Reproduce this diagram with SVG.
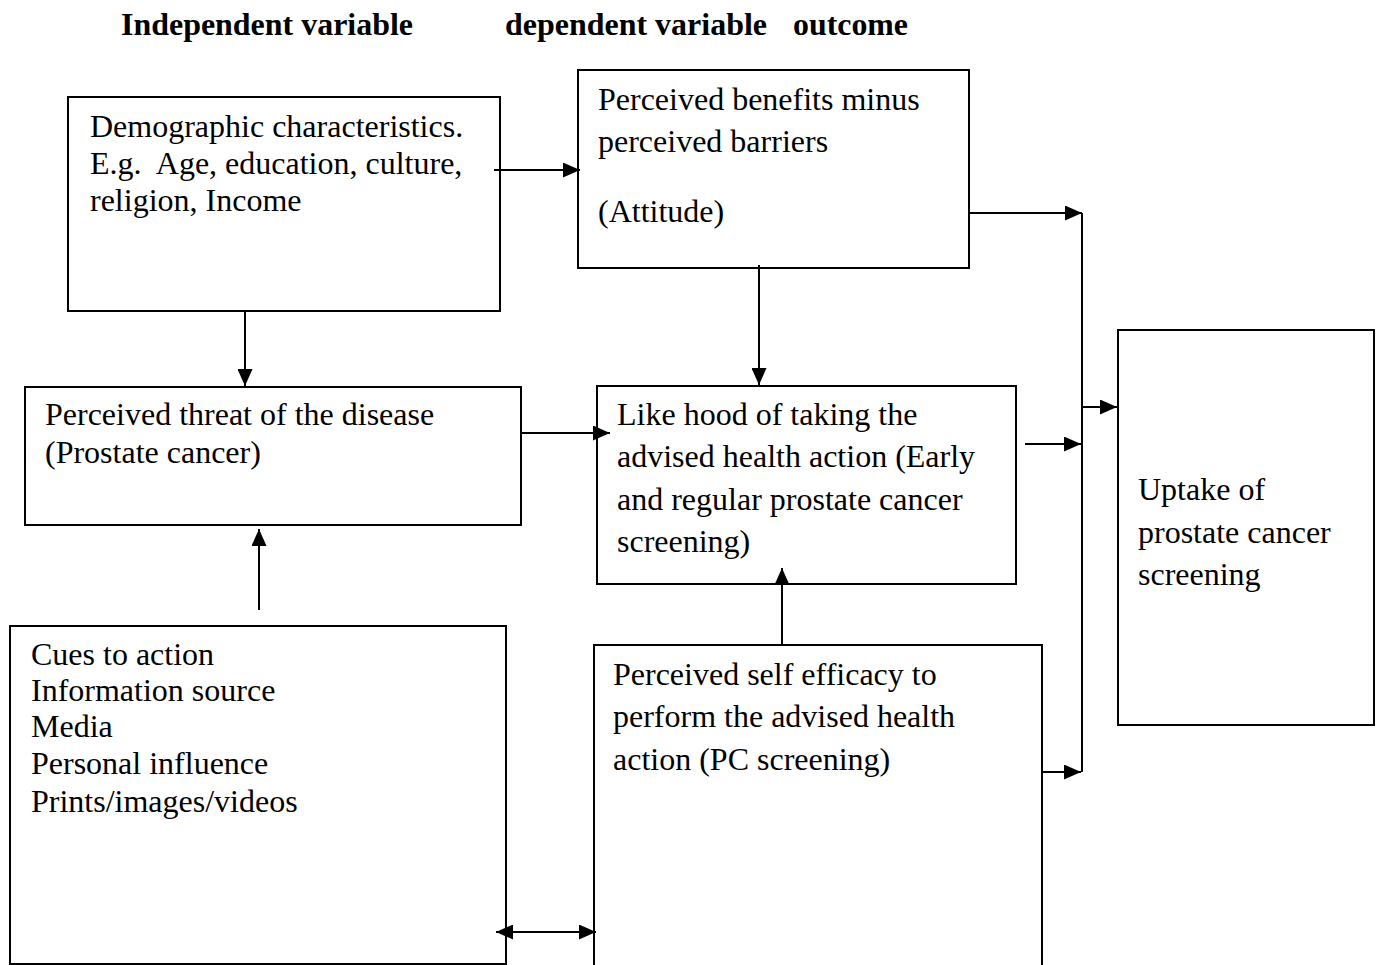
<svg xmlns="http://www.w3.org/2000/svg" width="1382" height="965" viewBox="0 0 1382 965">
<style>
.box{fill:#fff;stroke:#000;stroke-width:2}
.t{font-family:"Liberation Serif","Times New Roman",serif;font-size:32px;fill:#000}
.h{font-family:"Liberation Serif","Times New Roman",serif;font-size:31px;font-weight:bold;fill:#000}
.c{fill:none;stroke:#000;stroke-width:2}
</style>
<defs>
<marker id="ah" viewBox="0 0 17 15" refX="17" refY="7.5" markerWidth="17" markerHeight="15" markerUnits="userSpaceOnUse" orient="auto-start-reverse">
<path d="M0,0 L17,7.5 L0,15 z" fill="#000"/>
</marker>
</defs>
<rect width="1382" height="965" fill="#fff"/>
<g id="header">
<text class="h" x="121" y="35" textLength="292" lengthAdjust="spacingAndGlyphs">Independent variable</text>
<text class="h" x="505" y="35" textLength="262" lengthAdjust="spacingAndGlyphs">dependent variable</text>
<text class="h" x="793" y="35" textLength="115" lengthAdjust="spacingAndGlyphs">outcome</text>
</g>
<g id="demographic">
<rect class="box" x="68" y="97" width="432" height="214"/>
<text class="t" x="90" y="137">Demographic characteristics.</text>
<text class="t" x="90" y="174" xml:space="preserve">E.g.  Age, education, culture,</text>
<text class="t" x="90" y="211">religion, Income</text>
</g>
<g id="benefits">
<rect class="box" x="578" y="70" width="391" height="198"/>
<text class="t" x="598" y="110">Perceived benefits minus</text>
<text class="t" x="598" y="152">perceived barriers</text>
<text class="t" x="598" y="222">(Attitude)</text>
</g>
<g id="threat">
<rect class="box" x="25" y="387" width="496" height="138"/>
<text class="t" x="45" y="425">Perceived threat of the disease</text>
<text class="t" x="45" y="463">(Prostate cancer)</text>
</g>
<g id="likelihood">
<rect class="box" x="597" y="386" width="419" height="198"/>
<text class="t" x="617" y="425">Like hood of taking the</text>
<text class="t" x="617" y="467">advised health action (Early</text>
<text class="t" x="617" y="510">and regular prostate cancer</text>
<text class="t" x="617" y="552">screening)</text>
</g>
<g id="uptake">
<rect class="box" x="1118" y="330" width="256" height="395"/>
<text class="t" x="1138" y="500">Uptake of</text>
<text class="t" x="1138" y="543">prostate cancer</text>
<text class="t" x="1138" y="585">screening</text>
</g>
<g id="cues">
<rect class="box" x="10" y="626" width="496" height="338"/>
<text class="t" x="31" y="665">Cues to action</text>
<text class="t" x="31" y="701">Information source</text>
<text class="t" x="31" y="737">Media</text>
<text class="t" x="31" y="774">Personal influence</text>
<text class="t" x="31" y="812">Prints/images/videos</text>
</g>
<g id="selfefficacy">
<rect class="box" x="594" y="645" width="448" height="340"/>
<text class="t" x="613" y="685">Perceived self efficacy to</text>
<text class="t" x="613" y="727">perform the advised health</text>
<text class="t" x="613" y="770">action (PC screening)</text>
</g>
<g id="connectors">
<path class="c" d="M494,170 H580" marker-end="url(#ah)"/>
<path class="c" d="M969,213 H1082" marker-end="url(#ah)"/>
<path class="c" d="M1082,213 V772"/>
<path class="c" d="M1082,407 H1117" marker-end="url(#ah)"/>
<path class="c" d="M1025,444 H1081" marker-end="url(#ah)"/>
<path class="c" d="M1042,772 H1081" marker-end="url(#ah)"/>
<path class="c" d="M245,311 V386" marker-end="url(#ah)"/>
<path class="c" d="M759,265 V385" marker-end="url(#ah)"/>
<path class="c" d="M522,433 H610" marker-end="url(#ah)"/>
<path class="c" d="M259,610 V529" marker-end="url(#ah)"/>
<path class="c" d="M782,645 V568" marker-end="url(#ah)"/>
<path class="c" d="M496,932 H596" marker-start="url(#ah)" marker-end="url(#ah)"/>
</g>
</svg>
